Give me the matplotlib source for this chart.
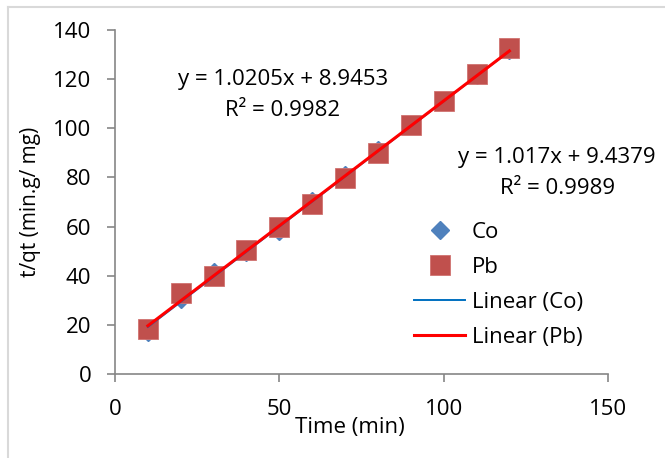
import matplotlib
matplotlib.use("Agg")
import matplotlib.pyplot as plt
from matplotlib.lines import Line2D
import numpy as np

# ---- data ----
time_min = [10, 20, 30, 40, 50, 60, 70, 80, 90, 100, 110, 120]
co_vals = [17, 30.5, 41.5, 49.5, 58, 70.5, 81, 91, 101.5, 111, 121.5, 132]
pb_vals = [18.5, 32.8, 40, 50.5, 59.8, 69, 79.6, 89.8, 101.5, 111, 122, 132.6]
co_fit = [1.0205, 8.9453]   # slope, intercept
pb_fit = [1.017, 9.4379]
co_label = ["y = 1.0205x + 8.9453", "R² = 0.9982"]
pb_label = ["y = 1.017x + 9.4379", "R² = 0.9989"]
x_ticks = [0, 50, 100, 150]
y_ticks = [0, 20, 40, 60, 80, 100, 120, 140]

plt.rcParams['font.family'] = ['Open Sans', 'DejaVu Sans']
FS = 16

W, H = 665, 458
fig = plt.figure(figsize=(W / 100, H / 100), dpi=100)
ax = fig.add_axes([115 / W, 1 - 374 / H, (608 - 115) / W, (374 - 30) / H])

# outer chart border (left & top)
fig.add_artist(Line2D([8 / W, 8 / W], [0, 1 - 7 / H], color='#D9D9D9', lw=1.5, transform=fig.transFigure))
fig.add_artist(Line2D([8 / W, 1], [1 - 7 / H, 1 - 7 / H], color='#D9D9D9', lw=1.5, transform=fig.transFigure))

ax.plot(time_min, co_vals, linestyle='none', marker='D', markersize=9,
        color='#4F81BD', markeredgecolor='#4F81BD', label='Co', zorder=3)
ax.plot(time_min, pb_vals, linestyle='none', marker='s', markersize=14,
        color='#C0504D', markeredgecolor='#D07270', markeredgewidth=0.6, label='Pb', zorder=4)

xf = np.array([time_min[0], time_min[-1]], dtype=float)
ax.plot(xf, co_fit[0] * xf + co_fit[1], color='#0070C0', lw=1.4, label='Linear (Co)', zorder=5)
ax.plot(xf, pb_fit[0] * xf + pb_fit[1], color='#FF0000', lw=2.2, label='Linear (Pb)', zorder=6)

ax.set_xlim(0, 150)
ax.set_ylim(0, 140)
ax.set_xticks(x_ticks)
ax.set_yticks(y_ticks)
for s in ['top', 'right']:
    ax.spines[s].set_visible(False)
for s in ['left', 'bottom']:
    ax.spines[s].set_color('#868686')
    ax.spines[s].set_linewidth(1.2)
ax.tick_params(axis='both', colors='#868686', labelcolor='black', labelsize=FS, length=6, width=1.2)
ax.tick_params(axis='y', pad=11)
ax.tick_params(axis='x', pad=12)

ax.set_xlabel('Time (min)', fontsize=FS)
ax.xaxis.set_label_coords((350 - 115) / 493, (374 - 427) / 344)
ax.xaxis.label.set_va('center')
ax.set_ylabel('t/qt (min.g/ mg)', fontsize=15)
ax.yaxis.set_label_coords((31 - 115) / 493, (374 - 202) / 344)
ax.yaxis.label.set_va('center')

def px(x, y):
    return ((x - 115) / 493, (374 - y) / 344)

ax.text(*px(283, 79), co_label[0], transform=ax.transAxes, ha='center', va='center', fontsize=FS)
ax.text(*px(283, 111), co_label[1], transform=ax.transAxes, ha='center', va='center', fontsize=FS)
ax.text(*px(557, 157), pb_label[0], transform=ax.transAxes, ha='center', va='center', fontsize=FS)
ax.text(*px(558, 188), pb_label[1], transform=ax.transAxes, ha='center', va='center', fontsize=FS)

leg = ax.legend(loc='upper left', bbox_to_anchor=px(414, 222), frameon=False, fontsize=FS,
                handlelength=2.3, handletextpad=0.3, labelspacing=0.63, borderaxespad=0, borderpad=0)

fig.savefig('out.png', dpi=100, facecolor='white')
